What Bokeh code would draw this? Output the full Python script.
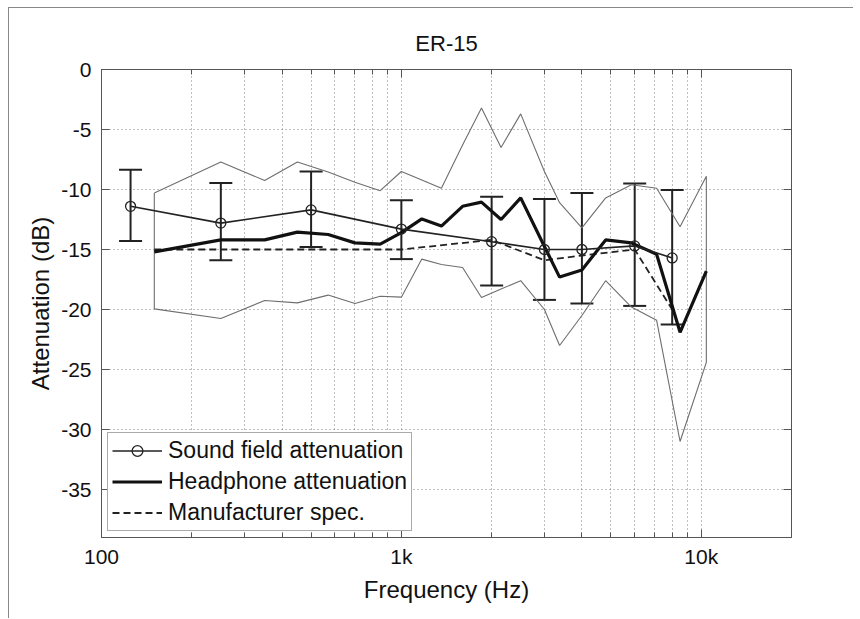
from bokeh.plotting import figure
from bokeh.models import (Range1d, LogAxis, LinearAxis, FixedTicker, Whisker,
                          ColumnDataSource, Legend, LegendItem, TeeHead, CustomJSTickFormatter)
from bokeh.embed import file_html
from bokeh.resources import INLINE

# ---------------- data ----------------
title_text = "ER-15"
x_label = "Frequency (Hz)"
y_label = "Attenuation (dB)"

band_freqs = [150, 250, 350, 450, 570, 700, 850, 1000, 1170, 1360, 1600, 1850,
              2150, 2500, 3000, 3370, 4000, 4800, 5850, 7100, 8500, 10400]
band_upper = [-10.3, -7.7, -9.25, -7.7, -8.55, -9.4, -10.1, -8.5, -9.2, -9.9, -6.3, -3.2,
              -6.5, -3.7, -8.5, -11.1, -13.2, -10.7, -9.6, -9.9, -13.1, -8.9]
band_lower = [-19.95, -20.75, -19.25, -19.45, -18.8, -19.5, -18.9, -18.97, -15.8, -16.25, -16.5, -19.0,
              -18.3, -17.6, -20.0, -23.0, -20.5, -17.6, -19.8, -20.9, -31.0, -24.4]
headphone = [-15.2, -14.2, -14.2, -13.55, -13.75, -14.45, -14.55, -13.6, -12.45, -13.05, -11.4, -11.05,
             -12.5, -10.7, -14.75, -17.3, -16.7, -14.2, -14.45, -15.4, -21.9, -16.8]

spec_freqs = [150, 250, 500, 1000, 2000, 3000, 4000, 6000, 8000]
spec_values = [-15.0, -15.0, -15.0, -15.0, -14.2, -15.9, -15.5, -15.0, -20.0]

sf_freqs = [125, 250, 500, 1000, 2000, 3000, 4000, 6000, 8000]
sf_mean = [-11.4, -12.8, -11.7, -13.3, -14.35, -15.0, -15.0, -14.7, -15.7]
sf_upper = [-8.35, -9.45, -8.5, -10.9, -10.6, -10.8, -10.3, -9.5, -10.05]
sf_lower = [-14.3, -15.9, -14.8, -15.8, -18.0, -19.2, -19.5, -19.7, -21.25]

x_tick_values = [100, 1000, 10000]
x_tick_labels = ["100", "1k", "10k"]
x_minor_values = [200, 300, 400, 500, 600, 700, 800, 900,
                  2000, 3000, 4000, 5000, 6000, 7000, 8000, 9000]
y_tick_values = [-35, -30, -25, -20, -15, -10, -5, 0]

FONT = "Liberation Sans"

p = figure(x_axis_type="log", x_range=Range1d(100, 20000), y_range=Range1d(-39, 0),
           frame_width=690, frame_height=468,
           min_border_left=92, min_border_right=62, min_border_top=61, min_border_bottom=81,
           output_backend="svg", toolbar_location=None, title=title_text,
           background_fill_color="white", border_fill_color="white")
p.styles = {"border-left": "1px solid #888", "border-top": "1px solid #888",
            "margin-left": "8px", "margin-top": "7px"}

p.title.align = "center"
p.title.text_font = FONT
p.title.text_font_size = "22px"
p.title.text_font_style = "normal"
p.title.text_color = "#111"
p.title.standoff = 28

p.outline_line_color = "#666"

xt = FixedTicker(ticks=x_tick_values, minor_ticks=x_minor_values)
yt = FixedTicker(ticks=y_tick_values)

x_lab_map = {v: l for v, l in zip(x_tick_values, x_tick_labels)}
for ax in p.xaxis:
    ax.ticker = xt
    ax.major_label_overrides = x_lab_map
    ax.axis_label = x_label
for ax in p.yaxis:
    ax.ticker = yt
    ax.formatter = CustomJSTickFormatter(code="return tick.toFixed(0);")
    ax.axis_label = y_label

for ax in p.xaxis + p.yaxis:
    ax.major_tick_in = 8
    ax.major_tick_out = 0
    ax.minor_tick_in = 5
    ax.minor_tick_out = 0
    ax.axis_line_color = "#555"
    ax.major_tick_line_color = "#555"
    ax.minor_tick_line_color = "#555"
    ax.major_label_text_font = FONT
    ax.major_label_text_font_size = "21px"
    ax.major_label_text_color = "#111"
    ax.axis_label_text_font = FONT
    ax.axis_label_text_font_size = "24px"
    ax.axis_label_text_font_style = "normal"
    ax.axis_label_text_color = "#111"
p.yaxis.minor_tick_line_color = None
p.yaxis.major_label_standoff = 10
p.yaxis.axis_label_standoff = 4
p.xaxis.major_label_standoff = 7
p.xaxis.axis_label_standoff = 5

blank = CustomJSTickFormatter(code="return '';")
top_ax = LogAxis(ticker=xt, formatter=blank, major_tick_in=8, major_tick_out=0,
                 minor_tick_in=5, minor_tick_out=0, major_label_standoff=0,
                 axis_line_color="#555", major_tick_line_color="#555", minor_tick_line_color="#555")
right_ax = LinearAxis(ticker=yt, formatter=blank, major_tick_in=8, major_tick_out=0,
                      minor_tick_line_color=None, major_label_standoff=0,
                      axis_line_color="#555", major_tick_line_color="#555")
p.add_layout(top_ax, "above")
p.add_layout(right_ax, "right")

p.xgrid.grid_line_color = "#808080"
p.xgrid.grid_line_dash = "1 3"
p.xgrid.minor_grid_line_color = "#808080"
p.xgrid.minor_grid_line_dash = "1 3"
p.ygrid.grid_line_color = "#808080"
p.ygrid.grid_line_dash = "1 3"

# grey envelope (closed outline)
env_x = band_freqs + band_freqs[::-1] + [band_freqs[0]]
env_y = band_upper + band_lower[::-1] + [band_upper[0]]
p.line(env_x, env_y, line_color="#6e6e6e", line_width=1.1)

spec_r = p.line(spec_freqs, spec_values, line_color="#222", line_width=1.8, line_dash="7 4")
head_r = p.line(band_freqs, headphone, line_color="#111", line_width=3.2)

sf_line = p.line(sf_freqs, sf_mean, line_color="#222", line_width=1.6)
sf_pts = p.scatter(sf_freqs, sf_mean, marker="circle", size=10, fill_color=None,
                   line_color="#222", line_width=1.3)

err_src = ColumnDataSource(dict(base=sf_freqs, upper=sf_upper, lower=sf_lower))
whisk = Whisker(source=err_src, base="base", upper="upper", lower="lower", dimension="height",
                line_color="#222", line_width=2,
                upper_head=TeeHead(size=23, line_color="#222", line_width=2),
                lower_head=TeeHead(size=23, line_color="#222", line_width=2))
p.add_layout(whisk)

legend = Legend(items=[
    LegendItem(label="Sound field attenuation", renderers=[sf_line, sf_pts]),
    LegendItem(label="Headphone attenuation", renderers=[head_r]),
    LegendItem(label="Manufacturer spec.", renderers=[spec_r]),
], location="bottom_left")
legend.margin = 6
legend.padding = 4
legend.spacing = 4
legend.glyph_width = 50
legend.glyph_height = 27
legend.label_height = 27
legend.label_standoff = 6
legend.label_text_font = FONT
legend.label_text_font_size = "23px"
legend.label_text_color = "#111"
legend.border_line_color = "#555"
legend.border_line_width = 1
legend.background_fill_color = "white"
legend.background_fill_alpha = 1
p.add_layout(legend, "center")

open("out.html", "w").write(file_html(p, INLINE))
